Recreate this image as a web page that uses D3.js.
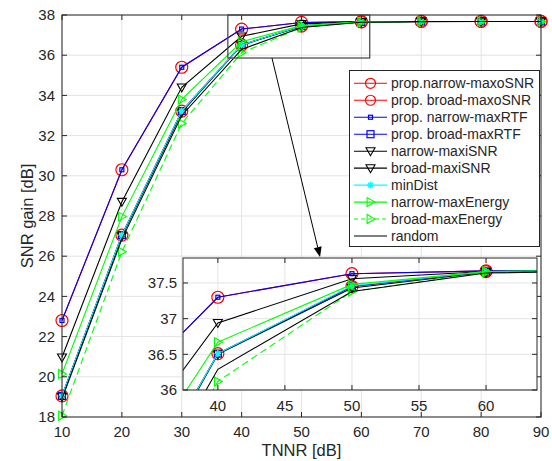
<!DOCTYPE html>
<html>
<head>
<meta charset="utf-8">
<script src="https://cdn.jsdelivr.net/npm/d3@7"></script>
<style>
  body { margin: 0; background: #fff; }
  svg { display: block; }
  text { font-family: "Liberation Sans", Arial, Helvetica, sans-serif; fill: #262626; }
</style>
</head>
<body>
<svg id="chart" width="552" height="461"></svg>
<script>
// ---------- data ----------
const tnnr = [10, 20, 30, 40, 50, 60, 70, 80, 90];
const propNarrowMaxoSNR = [22.8, 30.3, 35.4, 37.3, 37.63, 37.67, 37.68, 37.68, 37.68];
const propBroadMaxoSNR  = [19.05, 27.05, 33.22, 36.51, 37.45, 37.66, 37.68, 37.68, 37.68];
const propNarrowMaxRTF  = [22.8, 30.3, 35.4, 37.3, 37.63, 37.67, 37.68, 37.68, 37.68];
const propBroadMaxRTF   = [19.05, 27.05, 33.22, 36.51, 37.45, 37.66, 37.68, 37.68, 37.68];
const narrowMaxiSNR     = [20.97, 28.71, 34.4, 36.94, 37.56, 37.66, 37.68, 37.68, 37.68];
const broadMaxiSNR      = [19.0, 27.0, 33.15, 36.5, 37.43, 37.65, 37.68, 37.68, 37.68];
const minDist           = [19.05, 27.05, 33.22, 36.51, 37.46, 37.66, 37.68, 37.68, 37.68];
const narrowMaxEnergy   = [20.14, 27.97, 33.8, 36.67, 37.48, 37.66, 37.68, 37.68, 37.68];
const broadMaxEnergy    = [18.06, 26.22, 32.6, 36.12, 37.38, 37.65, 37.68, 37.68, 37.68];
const randomSel         = [18.9, 26.85, 33.0, 36.29, 37.38, 37.64, 37.67, 37.68, 37.68];

const seriesNames = ["prop.narrow-maxoSNR", "prop. broad-maxoSNR", "prop. narrow-maxRTF",
  "prop. broad-maxRTF", "narrow-maxiSNR", "broad-maxiSNR", "minDist",
  "narrow-maxEnergy", "broad-maxEnergy", "random"];
const seriesValues = [propNarrowMaxoSNR, propBroadMaxoSNR, propNarrowMaxRTF, propBroadMaxRTF,
  narrowMaxiSNR, broadMaxiSNR, minDist, narrowMaxEnergy, broadMaxEnergy, randomSel];

const mainXTicks = [10, 20, 30, 40, 50, 60, 70, 80, 90];
const mainYTicks = [18, 20, 22, 24, 26, 28, 30, 32, 34, 36, 38];
const insetXTicks = [40, 45, 50, 55, 60];
const insetYTicks = [36, 36.5, 37, 37.5];
const xLabel = "TNNR [dB]";
const yLabel = "SNR gain [dB]";

// ---------- styles ----------
const styles = [
  { color: "#ff0000", dash: null, marker: "circle", size: 6 },
  { color: "#ff0000", dash: null, marker: "circle", size: 6 },
  { color: "#0000ff", dash: null, marker: "square", size: 2 },
  { color: "#0000ff", dash: null, marker: "square", size: 3.5 },
  { color: "#000000", dash: null, marker: "tridown", size: 4.5 },
  { color: "#000000", dash: null, marker: "tridown", size: 4.5 },
  { color: "#00ffff", dash: null, marker: "asterisk", size: 3.5 },
  { color: "#00ff00", dash: null, marker: "triright", size: 4.5 },
  { color: "#00ff00", dash: "7,4", marker: "triright", size: 4.5 },
  { color: "#000000", dash: null, marker: null, size: 0 }
];

const svg = d3.select("#chart");
const axisColor = "#262626";
const gridColor = "#e3e3e3";

function drawMarker(g, type, size, color, x, y) {
  if (!type) return;
  const m = g.append("g").attr("transform", `translate(${x},${y})`);
  if (type === "circle") {
    m.append("circle").attr("r", size).attr("fill", "none").attr("stroke", color).attr("stroke-width", 1.2);
  } else if (type === "square") {
    m.append("rect").attr("x", -size).attr("y", -size).attr("width", 2 * size).attr("height", 2 * size)
      .attr("fill", "none").attr("stroke", color).attr("stroke-width", 1.2);
  } else if (type === "tridown") {
    m.append("path").attr("d", `M${-size},${-size * 0.75}L${size},${-size * 0.75}L0,${size}Z`)
      .attr("fill", "none").attr("stroke", color).attr("stroke-width", 1.1);
  } else if (type === "triright") {
    m.append("path").attr("d", `M${-size * 0.75},${-size}L${-size * 0.75},${size}L${size},0Z`)
      .attr("fill", "none").attr("stroke", color).attr("stroke-width", 1.1);
  } else if (type === "asterisk") {
    const s = size;
    const d = `M${-s},0L${s},0M0,${-s}L0,${s}M${-s * 0.7},${-s * 0.7}L${s * 0.7},${s * 0.7}M${-s * 0.7},${s * 0.7}L${s * 0.7},${-s * 0.7}`;
    m.append("path").attr("d", d).attr("stroke", color).attr("stroke-width", 1.4).attr("fill", "none");
  }
}

function drawAxesBox(g, x, y, xTicks, yTicks) {
  const [x0, x1] = x.range();
  const [y0, y1] = y.range();
  g.append("rect").attr("x", x0).attr("y", y1).attr("width", x1 - x0).attr("height", y0 - y1).attr("fill", "#fff");
  g.selectAll(null).data(xTicks).enter().append("line")
    .attr("x1", d => x(d)).attr("x2", d => x(d)).attr("y1", y1).attr("y2", y0)
    .attr("stroke", gridColor).attr("stroke-width", 1);
  g.selectAll(null).data(yTicks).enter().append("line")
    .attr("y1", d => y(d)).attr("y2", d => y(d)).attr("x1", x0).attr("x2", x1)
    .attr("stroke", gridColor).attr("stroke-width", 1);
}

function drawAxesFrame(g, x, y, xTicks, yTicks, fontSize, yFmt, xLabelGap, yLabelGap) {
  const [x0, x1] = x.range();
  const [y0, y1] = y.range();
  const tl = 5;
  g.append("rect").attr("x", x0).attr("y", y1).attr("width", x1 - x0).attr("height", y0 - y1)
    .attr("fill", "none").attr("stroke", axisColor).attr("stroke-width", 1);
  xTicks.forEach(t => {
    g.append("line").attr("x1", x(t)).attr("x2", x(t)).attr("y1", y0).attr("y2", y0 - tl).attr("stroke", axisColor);
    g.append("line").attr("x1", x(t)).attr("x2", x(t)).attr("y1", y1).attr("y2", y1 + tl).attr("stroke", axisColor);
    g.append("text").attr("x", x(t)).attr("y", y0 + xLabelGap).attr("text-anchor", "middle")
      .attr("font-size", fontSize).text(t);
  });
  yTicks.forEach(t => {
    g.append("line").attr("y1", y(t)).attr("y2", y(t)).attr("x1", x0).attr("x2", x0 + tl).attr("stroke", axisColor);
    g.append("line").attr("y1", y(t)).attr("y2", y(t)).attr("x1", x1).attr("x2", x1 - tl).attr("stroke", axisColor);
    g.append("text").attr("x", x0 - yLabelGap).attr("y", y(t)).attr("dy", "0.35em").attr("text-anchor", "end")
      .attr("font-size", fontSize).text(yFmt(t));
  });
}

function drawSeries(g, x, y, clipId) {
  const line = d3.line().x((d, i) => x(tnnr[i])).y(d => y(d));
  const cg = g.append("g").attr("clip-path", `url(#${clipId})`);
  seriesValues.forEach((vals, si) => {
    const st = styles[si];
    cg.append("path").attr("d", line(vals)).attr("fill", "none").attr("stroke", st.color)
      .attr("stroke-width", 1.1).attr("stroke-dasharray", st.dash);
    vals.forEach((v, i) => {
      const xd = x.domain(), yd = y.domain();
      if (tnnr[i] >= xd[0] - 0.01 && tnnr[i] <= xd[1] + 0.01 && v >= yd[0] - 0.3 && v <= yd[1] + 0.3)
        drawMarker(cg, st.marker, st.size, st.color, x(tnnr[i]), y(v));
    });
  });
}

// ---------- main axes ----------
const x = d3.scaleLinear().domain([10, 90]).range([62, 541]);
const y = d3.scaleLinear().domain([18, 38]).range([417, 15]);
const defs = svg.append("defs");
defs.append("clipPath").attr("id", "clipMain").append("rect")
  .attr("x", 52).attr("y", 5).attr("width", 500).attr("height", 422);

const mainG = svg.append("g");
drawAxesBox(mainG, x, y, mainXTicks, mainYTicks);
drawSeries(mainG, x, y, "clipMain");
drawAxesFrame(mainG, x, y, mainXTicks, mainYTicks, 15, d => d, 20, 7);

mainG.append("text").attr("x", (x.range()[0] + x.range()[1]) / 2).attr("y", 456)
  .attr("text-anchor", "middle").attr("font-size", 16.5).text(xLabel);
mainG.append("text").attr("transform", `translate(33,${(y.range()[0] + y.range()[1]) / 2}) rotate(-90)`)
  .attr("text-anchor", "middle").attr("font-size", 16.5).text(yLabel);

// zoom rectangle in main axes
const zoomX = [37.7, 61.4], zoomY = [35.86, 38];
mainG.append("rect").attr("x", x(zoomX[0])).attr("y", y(zoomY[1]))
  .attr("width", x(zoomX[1]) - x(zoomX[0])).attr("height", y(zoomY[0]) - y(zoomY[1]))
  .attr("fill", "none").attr("stroke", "#404040").attr("stroke-width", 1.2);

// ---------- inset ----------
const xi = d3.scaleLinear().domain([37.4, 63.8]).range([183, 537]);
const yi = d3.scaleLinear().domain([36, 37.85]).range([390, 258]);
defs.append("clipPath").attr("id", "clipInset").append("rect")
  .attr("x", 183).attr("y", 258).attr("width", 354).attr("height", 132);
const insetG = svg.append("g");
drawAxesBox(insetG, xi, yi, insetXTicks, insetYTicks);
drawSeries(insetG, xi, yi, "clipInset");
drawAxesFrame(insetG, xi, yi, insetXTicks, insetYTicks, 15, d => d, 21, 6);

// arrow from zoom rectangle to inset
const ax0 = x(45.07), ay0 = y(zoomY[0]);
const ax1 = x(53.1), ay1 = y(25.96);
const ang = Math.atan2(ay1 - ay0, ax1 - ax0);
const hl = 10, hw = 4;
const bx = ax1 - hl * Math.cos(ang), by = ay1 - hl * Math.sin(ang);
svg.append("line").attr("x1", ax0).attr("y1", ay0).attr("x2", bx).attr("y2", by)
  .attr("stroke", "#000").attr("stroke-width", 1);
svg.append("path").attr("d",
  `M${ax1},${ay1}L${bx + hw * Math.sin(ang)},${by - hw * Math.cos(ang)}L${bx - hw * Math.sin(ang)},${by + hw * Math.cos(ang)}Z`)
  .attr("fill", "#000");

// ---------- legend ----------
const lg = svg.append("g");
lg.append("rect").attr("x", 349.5).attr("y", 70.5).attr("width", 190).attr("height", 176)
  .attr("fill", "#fff").attr("stroke", axisColor).attr("stroke-width", 1);
seriesNames.forEach((name, i) => {
  const st = styles[i];
  const ry = 83.3 + i * 16.97;
  lg.append("line").attr("x1", 354).attr("x2", 387).attr("y1", ry).attr("y2", ry)
    .attr("stroke", st.color).attr("stroke-width", 1.1).attr("stroke-dasharray", st.dash ? "4,3" : null);
  drawMarker(lg, st.marker, st.marker === "circle" ? 5 : st.size, st.color, 370.5, ry);
  lg.append("text").attr("x", 391).attr("y", ry).attr("dy", "0.35em").attr("font-size", 14).text(name);
});
</script>
</body>
</html>
